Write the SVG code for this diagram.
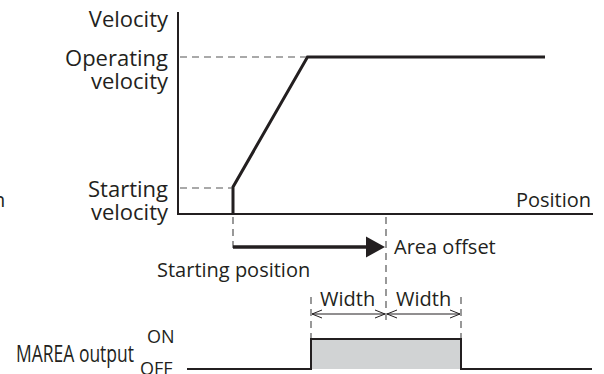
<svg xmlns="http://www.w3.org/2000/svg" width="604" height="374" viewBox="0 0 604 374">
  <defs>
    <style>
      text { font-family: "Open Sans", "Liberation Sans", sans-serif; fill: #231f20; }
      .lbl { font-size: 22px; text-anchor: end; }
      .txt { font-size: 20px; }
      .axis { stroke: #231f20; stroke-width: 2; fill: none; }
      .curve { stroke: #231f20; stroke-width: 3; fill: none; stroke-linejoin: miter; }
      .dash { stroke: #555; stroke-width: 1.2; fill: none; stroke-dasharray: 7 5; }
      .thin { stroke: #231f20; stroke-width: 1; fill: none; }
    </style>
    <marker id="open" viewBox="0 0 10 10" refX="10" refY="5" markerWidth="10" markerHeight="10" markerUnits="userSpaceOnUse" orient="auto-start-reverse">
      <path d="M0,1 L10,5 L0,9" fill="none" stroke="#231f20" stroke-width="1"/>
    </marker>
  </defs>

  <g id="axes">
    <path class="axis" d="M178,12 V214 H593"/>
    <text class="lbl" x="168" y="27">Velocity</text>
    <text class="txt" x="591" y="207" text-anchor="end">Position</text>
  </g>

  <g id="label-operating">
    <text class="lbl" x="168" y="66">Operating</text>
    <text class="lbl" x="168" y="89">velocity</text>
  </g>

  <g id="label-starting">
    <text class="lbl" x="168" y="197">Starting</text>
    <text class="lbl" x="168" y="220">velocity</text>
  </g>

  <g id="fragment">
    <text class="txt" x="-7" y="207">n</text>
  </g>

  <g id="profile">
    <path class="curve" d="M233,214 V187 L307.5,57 H545"/>
  </g>

  <g id="connectors">
    <path class="dash" d="M180,57 H306"/>
    <path class="dash" d="M180,188 H232"/>
    <path class="dash" d="M233,217 V252"/>
    <path class="dash" d="M386,217 V322"/>
    <path class="dash" d="M311,297 V338"/>
    <path class="dash" d="M461,297 V338"/>
    <path d="M233,247 H368" stroke="#231f20" stroke-width="3.5" fill="none"/>
    <path d="M366,236.5 L385,247 L366,257.5 Z" fill="#231f20"/>
    <path class="thin" d="M312,314 H385" marker-start="url(#open)" marker-end="url(#open)"/>
    <path class="thin" d="M387,314 H460" marker-start="url(#open)" marker-end="url(#open)"/>
  </g>

  <g id="area-offset">
    <text class="txt" x="394" y="254">Area offset</text>
  </g>

  <g id="starting-position">
    <text class="txt" x="157" y="277">Starting position</text>
  </g>

  <g id="width-labels">
    <text class="txt" x="320" y="306">Width</text>
    <text class="txt" x="396" y="306">Width</text>
  </g>

  <g id="marea-output">
    <rect x="311" y="339" width="150" height="30" fill="#d1d3d4"/>
    <path class="axis" d="M187,369 H311 V339 H461 V369 H592"/>
    <text x="16" y="362" font-size="23" textLength="118" lengthAdjust="spacingAndGlyphs">MAREA output</text>
    <text x="147" y="343" font-size="18">ON</text>
    <text x="140" y="375" font-size="18">OFF</text>
  </g>
</svg>
